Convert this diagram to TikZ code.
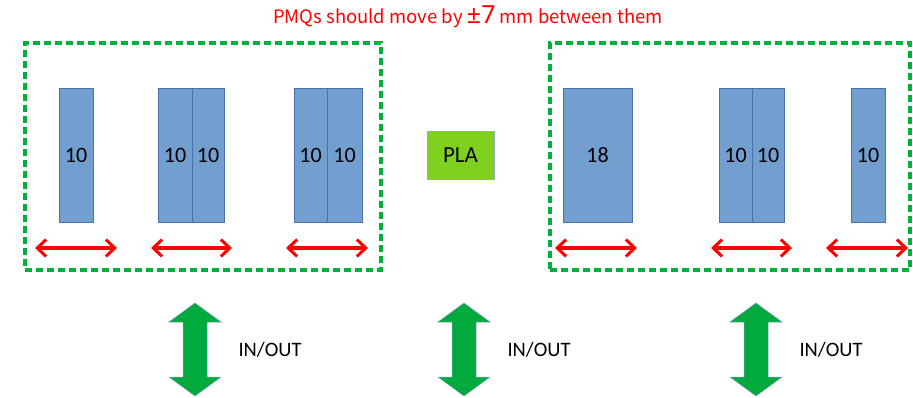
\documentclass[tikz,border=0pt]{standalone}
\usepackage{fontspec}
\setmainfont{Carlito}
\newfontfamily\titlefont{Noto Sans CJK KR}
\newfontfamily\signfont{Noto Sans}
\usetikzlibrary{arrows.meta}
\definecolor{pmqblue}{RGB}{114,159,207}
\definecolor{pmqedge}{RGB}{74,112,168}
\definecolor{zonegreen}{RGB}{0,176,60}
\definecolor{plagreen}{RGB}{128,208,32}
\definecolor{ioarrow}{RGB}{0,170,60}
\begin{document}
\begin{tikzpicture}[x=1pt,y=-1pt,
  pmq/.style={draw=pmqedge,line width=0.8pt,fill=pmqblue,inner sep=0pt,
    font=\fontsize{22}{26}\selectfont},
  zone/.style={draw=zonegreen,line width=3.4pt,dash pattern=on 7pt off 4pt},
  shift arrow/.style={draw=red,line width=3.4pt,
    {Straight Barb[length=9pt,width=17pt,line width=3pt]}-{Straight Barb[length=9pt,width=17pt,line width=3pt]}},
  ioshape/.style={fill=ioarrow,draw=pmqedge!70,line width=0.5pt},
  iolabel/.style={anchor=west,font=\fontsize{20.5}{24}\selectfont},
]
\useasboundingbox (0,0) rectangle (913,397);

% title
\node (title) at (468,17) {\titlefont\fontsize{18.5}{22}\selectfont\color{red}PMQs should move by {\signfont\fontsize{25}{26}\selectfont ±7} mm between them};

% dashed zones
\node[zone,minimum width=356,minimum height=227] (zoneL) at (203,156.5) {};
\node[zone,minimum width=360,minimum height=227] (zoneR) at (730,156.5) {};

% PMQ blocks, left group
\node[pmq,minimum width=34,minimum height=134] (b1) at (76,155) {10};
\node[pmq,minimum width=34,minimum height=134] (b2) at (175,155) {10};
\node[pmq,minimum width=32,minimum height=134] (b3) at (208,155) {10};
\node[pmq,minimum width=33,minimum height=134] (b4) at (310.5,155) {10};
\node[pmq,minimum width=35,minimum height=134] (b5) at (344.5,155) {10};

% PLA
\node[draw=pmqedge!60,line width=0.8pt,fill=plagreen,minimum width=67,minimum height=48,
  font=\fontsize{23}{26}\selectfont] (pla) at (460.5,155) {PLA};

% PMQ blocks, right group
\node[pmq,minimum width=69,minimum height=134] (b6) at (597.5,155) {18};
\node[pmq,minimum width=33,minimum height=134] (b7) at (735.5,155) {10};
\node[pmq,minimum width=32,minimum height=134] (b8) at (768,155) {10};
\node[pmq,minimum width=34,minimum height=134] (b9) at (868,155) {10};

% shift ranges
\coordinate (l1a) at (35,248);  \coordinate (l1b) at (117,248);
\coordinate (l2a) at (151,248); \coordinate (l2b) at (232,248);
\coordinate (l3a) at (286,248); \coordinate (l3b) at (368,248);
\coordinate (r1a) at (555,248); \coordinate (r1b) at (637,248);
\coordinate (r2a) at (711,248); \coordinate (r2b) at (792,248);
\coordinate (r3a) at (826,248); \coordinate (r3b) at (908,248);
\foreach \p in {l1,l2,l3,r1,r2,r3}
  \draw[shift arrow] (\p a) -- (\p b);

% IN/OUT double arrows
\foreach \cx/\nm in {195/ioA,464/ioB,756/ioC}{
  \path[ioshape] (\cx,303) -- (\cx+26,322) -- (\cx+12,322) -- (\cx+12,377)
    -- (\cx+26,377) -- (\cx,396) -- (\cx-26,377) -- (\cx-12,377)
    -- (\cx-12,322) -- (\cx-26,322) -- cycle;
  \node[iolabel] (\nm) at (\cx+40,350) {IN/OUT};
}
\end{tikzpicture}
\end{document}
